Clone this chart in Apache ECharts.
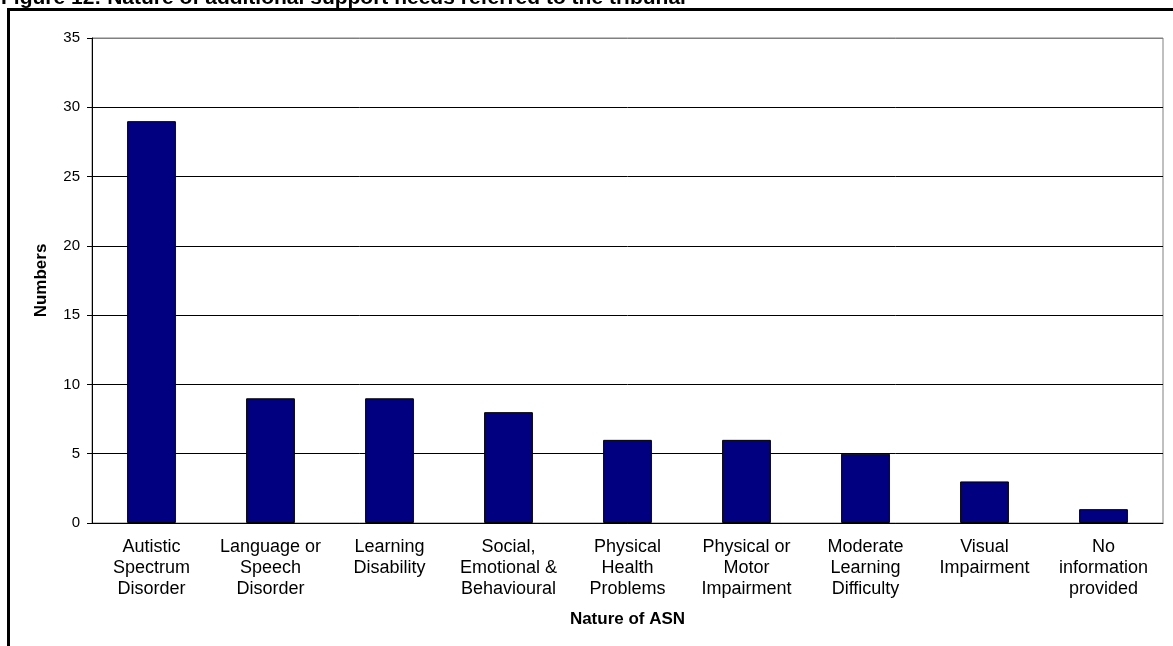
<!DOCTYPE html>
<html>
<head>
<meta charset="utf-8">
<script src="https://cdn.jsdelivr.net/npm/echarts@6/dist/echarts.min.js"></script>
<style>
  html, body { margin: 0; padding: 0; background: #fff; }
  #main { width: 1173px; height: 646px; }
</style>
</head>
<body>
<div id="main"></div>
<script>
// data
var categories = [
  'Autistic\nSpectrum\nDisorder',
  'Language or\nSpeech\nDisorder',
  'Learning\nDisability',
  'Social,\nEmotional &\nBehavioural',
  'Physical\nHealth\nProblems',
  'Physical or\nMotor\nImpairment',
  'Moderate\nLearning\nDifficulty',
  'Visual\nImpairment',
  'No\ninformation\nprovided'
];
var numbers = [29, 9, 9, 8, 6, 6, 5, 3, 1];
var yTicks = [0, 5, 10, 15, 20, 25, 30, 35];

var myChart = echarts.init(document.getElementById('main'));

var option = {
  animation: false,
  textStyle: { fontFamily: 'Liberation Sans, Arial, sans-serif' },
  graphic: [
    // chart title, cut off at the top of the page
    {
      type: 'text', left: 1, top: -12,
      style: {
        text: 'Figure 12: Nature of additional support needs referred to the tribunal',
        font: 'bold 21px "Liberation Sans", Arial, sans-serif',
        fill: '#000'
      }
    },
    // outer frame (top and left edges visible)
    { type: 'rect', shape: { x: 7, y: 8, width: 1170, height: 3 }, style: { fill: '#000' } },
    { type: 'rect', shape: { x: 7, y: 8, width: 3, height: 650 }, style: { fill: '#000' } }
  ],
  grid: {
    left: 92, right: 10, top: 38, bottom: 123,
    show: true, borderColor: '#808080', borderWidth: 1
  },
  xAxis: {
    type: 'category',
    data: categories,
    name: 'Nature of ASN',
    nameLocation: 'middle',
    nameGap: 88,
    nameTextStyle: { fontWeight: 'bold', fontSize: 17, color: '#000' },
    axisLine: { lineStyle: { color: '#000', width: 1 } },
    axisTick: { length: 5, lineStyle: { color: '#000' } },
    axisLabel: { fontSize: 18, color: '#000', lineHeight: 21, margin: 14, interval: 0 }
  },
  yAxis: {
    type: 'value',
    min: yTicks[0],
    max: yTicks[yTicks.length - 1],
    interval: 5,
    name: 'Numbers',
    nameLocation: 'middle',
    nameGap: 42,
    nameTextStyle: { fontWeight: 'bold', fontSize: 17, color: '#000' },
    axisLine: { show: true, lineStyle: { color: '#000' } },
    axisTick: { show: true, length: 5, lineStyle: { color: '#000' } },
    axisLabel: { fontSize: 15, color: '#000', margin: 12 },
    splitLine: {
      show: true,
      lineStyle: { color: ['#000', '#000', '#000', '#000', '#000', '#000', '#000', '#808080'], width: 1 }
    }
  },
  series: [{
    name: 'Numbers',
    type: 'bar',
    data: numbers,
    barWidth: '41%',
    itemStyle: { color: '#000080', borderColor: '#000', borderWidth: 1 }
  }]
};

myChart.setOption(option);
</script>
</body>
</html>
